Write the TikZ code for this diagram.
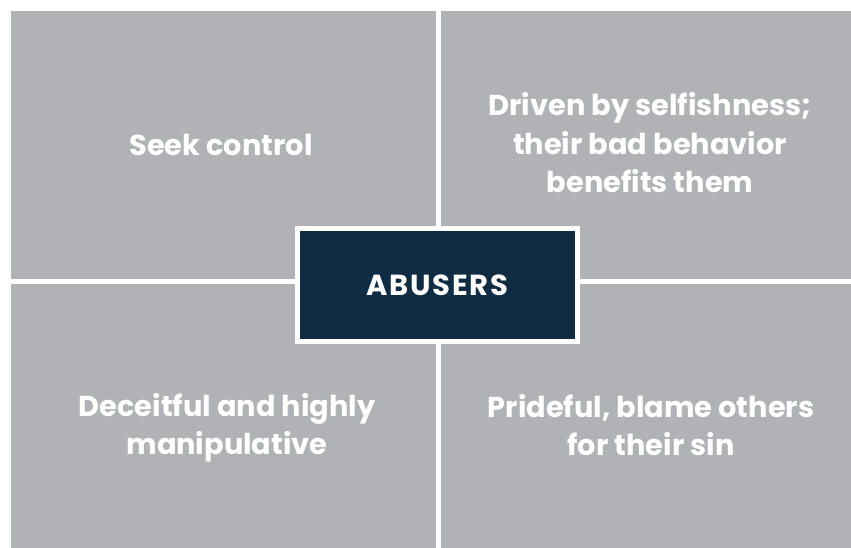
\documentclass[tikz,border=0pt]{standalone}
\usepackage{fontspec}
\setmainfont{Poppins}
\newfontfamily\absfont{Poppins}[LetterSpace=6]
\definecolor{quad}{HTML}{B1B2B6}
\definecolor{navy}{HTML}{0F2C43}
\begin{document}
\begin{tikzpicture}[x=1pt,y=-1pt,
  quadbox/.style={fill=quad,draw=none},
  qtext/.style={text=white,align=center,font=\fontsize{28.8}{38.5}\selectfont\bfseries},
  centerbox/.style={fill=navy,draw=white,line width=5.5pt,minimum width=280pt,minimum height=113pt,inner sep=0pt,text=white,font=\absfont\fontsize{29}{32}\selectfont\bfseries}]
\useasboundingbox[fill=white] (0,0) rectangle (851,548);
\fill[quadbox] (11,11) rectangle (435.5,279);
\fill[quadbox] (440.5,11) rectangle (851,279);
\fill[quadbox] (11,284) rectangle (435.5,548);
\fill[quadbox] (440.5,284) rectangle (851,548);
\node[qtext] (tl) at (221,145) {Seek control};
\node[qtext] (tr) at (650,143) {Driven by selfishness;\\their bad behavior\\benefits them};
\node[qtext] (bl) at (227,428) {Deceitful and highly\\manipulative};
\node[qtext] (br) at (651,425) {Prideful, blame others\\for their sin};
\node[centerbox] (c) at (437.5,284.8) {ABUSERS};
\end{tikzpicture}
\end{document}
